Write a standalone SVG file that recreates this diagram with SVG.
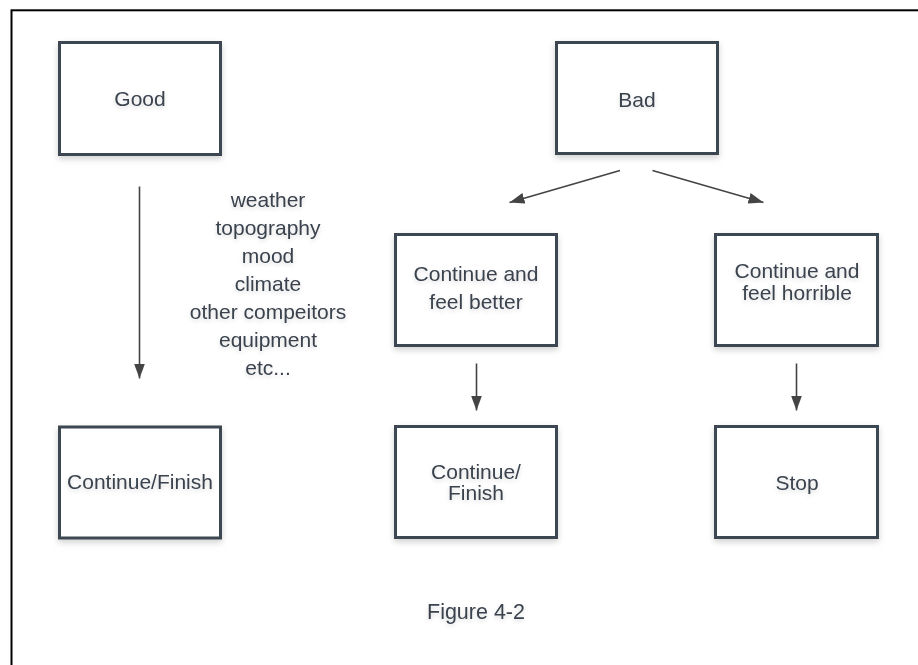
<svg xmlns="http://www.w3.org/2000/svg" width="918" height="665" viewBox="0 0 918 665">
  <defs>
    <filter id="soft" x="-20%" y="-20%" width="140%" height="150%">
      <feDropShadow dx="0" dy="3" stdDeviation="3" flood-color="#000" flood-opacity="0.18"/>
    </filter>
    <filter id="textShadow" x="-10%" y="-30%" width="120%" height="180%">
      <feDropShadow dx="0" dy="2" stdDeviation="2" flood-color="#000" flood-opacity="0.15"/>
    </filter>
    <marker id="head" markerUnits="userSpaceOnUse" markerWidth="15" markerHeight="11" refX="15" refY="5.5" orient="auto">
      <path d="M0,0 L15,5.5 L0,11 z" fill="#444"/>
    </marker>
  </defs>
  <style>
    .box { fill: #fff; stroke: #3d4651; stroke-width: 3; filter: url(#soft); }
    .lbl { font-family: "Liberation Sans", Arial, sans-serif; font-size: 21px; fill: #3a434e; text-anchor: middle; filter: url(#textShadow); }
    .edge { stroke: #444; stroke-width: 1.6; fill: none; marker-end: url(#head); }
  </style>

  <rect width="918" height="665" fill="#fff"/>
  <!-- page frame, running past the right and bottom edges -->
  <rect x="11.5" y="10.3" width="1000" height="1000" fill="none" stroke="#000" stroke-width="2"/>

  <g id="connectors">
    <line class="edge" x1="139.5" y1="186.5" x2="139.5" y2="378.5"/>
    <line class="edge" x1="620" y1="170.5" x2="509.5" y2="202.5"/>
    <line class="edge" x1="652.5" y1="170.5" x2="763.5" y2="202.5"/>
    <line class="edge" x1="476.5" y1="363.5" x2="476.5" y2="410.5"/>
    <line class="edge" x1="796.5" y1="363.5" x2="796.5" y2="410.5"/>
  </g>

  <g id="good">
    <rect class="box" x="59.5" y="42.5" width="161" height="112"/>
    <text class="lbl" x="140" y="105.5">Good</text>
  </g>

  <g id="bad">
    <rect class="box" x="556.5" y="42.5" width="161" height="111"/>
    <text class="lbl" x="637" y="106.5">Bad</text>
  </g>

  <g id="factors">
    <text class="lbl" x="268" y="206.5">weather</text>
    <text class="lbl" x="268" y="234.5">topography</text>
    <text class="lbl" x="268" y="262.5">mood</text>
    <text class="lbl" x="268" y="290.5">climate</text>
    <text class="lbl" x="268" y="318.5">other compeitors</text>
    <text class="lbl" x="268" y="346.5">equipment</text>
    <text class="lbl" x="268" y="374.5">etc...</text>
  </g>

  <g id="feel-better">
    <rect class="box" x="395.5" y="234.5" width="161" height="111"/>
    <text class="lbl" x="476" y="281">Continue and</text>
    <text class="lbl" x="476" y="309">feel better</text>
  </g>

  <g id="feel-horrible">
    <rect class="box" x="715.5" y="234.5" width="162" height="111"/>
    <text class="lbl" x="797" y="278">Continue and</text>
    <text class="lbl" x="797" y="299.5">feel horrible</text>
  </g>

  <g id="good-finish">
    <rect class="box" x="59.5" y="427" width="161" height="111"/>
    <text class="lbl" x="140" y="488.5">Continue/Finish</text>
  </g>

  <g id="better-finish">
    <rect class="box" x="395.5" y="426.5" width="161" height="111"/>
    <text class="lbl" x="476" y="478.5">Continue/</text>
    <text class="lbl" x="476" y="500">Finish</text>
  </g>

  <g id="stop">
    <rect class="box" x="715.5" y="426.5" width="162" height="111"/>
    <text class="lbl" x="797" y="489.5">Stop</text>
  </g>

  <text class="lbl" x="476" y="618.5" style="font-size:21.5px">Figure 4-2</text>
</svg>
